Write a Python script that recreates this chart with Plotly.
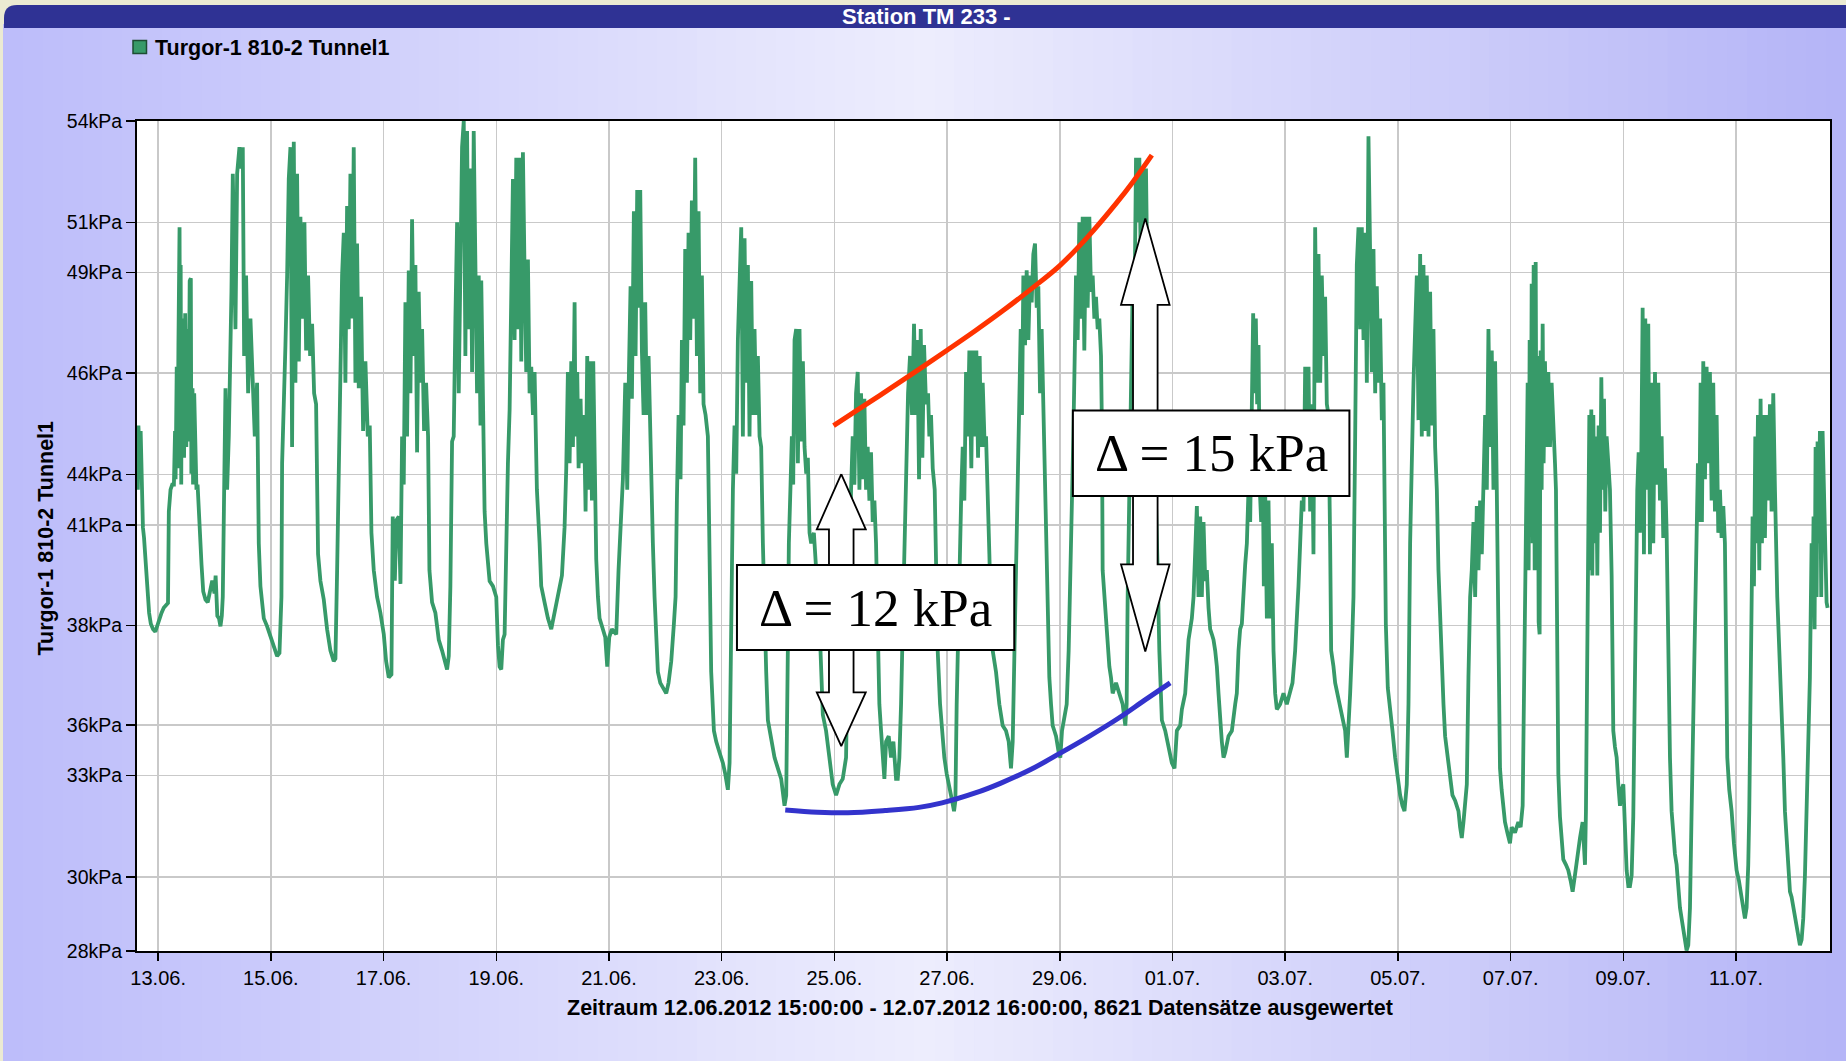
import numpy as np
import pandas as pd
import plotly.graph_objects as go

# ---------------- data (days after 13.06.2012 00:00, kPa) ----------------
BASE = pd.Timestamp("2012-06-13 00:00")
START_DAY, END_DAY = -0.375, 29.6667

seg_jun12_18 = [
    (-0.373, 44.12), (-0.36, 42.45), (-0.35, 44.46), (-0.33, 43.62), (-0.31, 44.29), (-0.29, 42.61),
    (-0.27, 41.27), (-0.25, 40.94), (-0.22, 40.1), (-0.19, 39.43), (-0.16, 38.59), (-0.13, 38.25),
    (-0.09, 38.08), (-0.05, 38.0), (-0.02, 38.17), (0.02, 38.42), (0.06, 38.59), (0.10, 38.75),
    (0.15, 38.84), (0.175, 38.9), (0.19, 41.77), (0.22, 42.45), (0.25, 42.61), (0.28, 42.61),
    (0.30, 44.29), (0.31, 42.78), (0.33, 46.30), (0.345, 43.12), (0.36, 46.98), (0.365, 50.67),
    (0.38, 50.67), (0.39, 44.96), (0.40, 49.49), (0.41, 42.61), (0.42, 47.81), (0.43, 44.12),
    (0.44, 47.31), (0.46, 43.45), (0.48, 47.98), (0.50, 43.79), (0.52, 47.48), (0.54, 43.96),
    (0.56, 48.99), (0.58, 49.07), (0.59, 42.95), (0.61, 45.63), (0.62, 42.61), (0.64, 45.47),
    (0.66, 42.95), (0.68, 42.45), (0.70, 42.61), (0.72, 41.77), (0.74, 40.77), (0.77, 40.1),
    (0.80, 39.26), (0.84, 39.01), (0.88, 38.92), (0.92, 39.26), (0.96, 39.6), (1.0, 39.2),
    (1.02, 39.76), (1.05, 38.5), (1.08, 38.42), (1.106, 38.17), (1.13, 38.5), (1.147, 39.09),
    (1.165, 41.27), (1.195, 45.63), (1.224, 42.45), (1.254, 44.12), (1.301, 48.65), (1.325, 52.35),
    (1.372, 47.48), (1.402, 52.35), (1.443, 53.18), (1.478, 52.51), (1.502, 53.18), (1.526, 46.64),
    (1.561, 49.16), (1.597, 45.47), (1.638, 47.81), (1.668, 46.14), (1.715, 44.12), (1.756, 45.8),
    (1.786, 40.77), (1.815, 39.43), (1.875, 38.42), (1.934, 38.17), (1.993, 37.83), (2.052, 37.58),
    (2.111, 37.24), (2.153, 37.33), (2.188, 39.09), (2.2, 43.28), (2.23, 45.8), (2.259, 46.98),
    (2.289, 49.16), (2.318, 52.18), (2.348, 53.18), (2.377, 43.79), (2.407, 53.35), (2.436, 45.8),
    (2.466, 52.35), (2.496, 46.47), (2.525, 51.0), (2.555, 47.81), (2.596, 50.83), (2.626, 46.81),
    (2.661, 49.16), (2.697, 46.64), (2.732, 47.65), (2.768, 45.47), (2.803, 45.13), (2.838, 40.43),
    (2.88, 39.59), (2.939, 39.01), (2.998, 38.08), (3.057, 37.41), (3.116, 37.08), (3.146, 37.16),
    (3.176, 39.93), (3.205, 43.45), (3.235, 45.3), (3.264, 49.16), (3.294, 50.5), (3.323, 45.8),
    (3.353, 51.34), (3.382, 47.48), (3.412, 52.35), (3.442, 47.81), (3.471, 53.18), (3.501, 45.8),
    (3.53, 50.16), (3.56, 45.63), (3.601, 48.49), (3.637, 44.29), (3.678, 46.47), (3.72, 44.12),
    (3.755, 44.46), (3.785, 41.1), (3.826, 39.93), (3.885, 39.09), (3.944, 38.59), (4.004, 37.92),
    (4.045, 37.08), (4.092, 36.57), (4.14, 36.66), (4.151, 39.43), (4.163, 41.61), (4.2, 39.6),
    (4.23, 41.5), (4.27, 41.61), (4.3, 39.5), (4.329, 44.12), (4.358, 42.61), (4.388, 48.32),
    (4.417, 44.12), (4.447, 49.32), (4.477, 45.47), (4.506, 50.92), (4.536, 46.64), (4.565, 49.49),
    (4.595, 43.62), (4.624, 48.65), (4.654, 45.8), (4.684, 47.48), (4.719, 44.29), (4.755, 45.8),
    (4.79, 44.12), (4.814, 39.93), (4.861, 38.92), (4.92, 38.59), (4.98, 37.75), (5.038, 37.41),
    (5.097, 37.08), (5.127, 36.82), (5.157, 37.24), (5.186, 39.43), (5.216, 43.96), (5.245, 44.12),
    (5.275, 47.81), (5.305, 50.83), (5.334, 45.47), (5.364, 50.83), (5.393, 53.18), (5.423, 54.0),
    (5.452, 46.64), (5.482, 53.69), (5.512, 47.48), (5.541, 52.51), (5.571, 46.14), (5.6, 53.69),
    (5.63, 49.16), (5.659, 45.47), (5.689, 49.16),
]

seg_jun18_24 = [
    (5.72, 44.46), (5.734, 49.0), (5.763, 44.12), (5.793, 41.77), (5.823, 40.77), (5.852, 40.27),
    (5.882, 39.59), (5.941, 39.43), (6.0, 39.09), (6.03, 37.58), (6.059, 36.91), (6.089, 36.82),
    (6.118, 37.75), (6.148, 37.92), (6.177, 40.77), (6.207, 43.28), (6.237, 44.96), (6.266, 48.32),
    (6.296, 52.18), (6.325, 47.14), (6.355, 52.85), (6.384, 47.48), (6.414, 52.85), (6.444, 46.47),
    (6.473, 53.02), (6.503, 49.16), (6.532, 46.14), (6.562, 49.66), (6.591, 45.47), (6.621, 46.30),
    (6.651, 44.79), (6.68, 46.14), (6.698, 43.96), (6.721, 42.45), (6.769, 40.77), (6.798, 39.43),
    (6.857, 38.92), (6.917, 38.42), (6.976, 38.08), (7.035, 38.59), (7.094, 39.09), (7.165, 39.76),
    (7.212, 41.27), (7.242, 43.12), (7.271, 46.14), (7.301, 43.28), (7.331, 46.47), (7.36, 43.79),
    (7.39, 48.32), (7.407, 44.12), (7.437, 46.14), (7.461, 43.12), (7.496, 45.3), (7.52, 43.28),
    (7.555, 44.79), (7.585, 41.77), (7.614, 46.64), (7.644, 42.45), (7.674, 46.47), (7.697, 42.11),
    (7.721, 46.47), (7.745, 42.45), (7.774, 40.27), (7.804, 39.09), (7.833, 38.42), (7.892, 38.08),
    (7.934, 37.83), (7.969, 36.91), (8.005, 37.83), (8.052, 38.08), (8.129, 37.92), (8.17, 39.93),
    (8.218, 41.61), (8.247, 42.78), (8.289, 45.8), (8.324, 42.45), (8.354, 46.14), (8.383, 48.82),
    (8.407, 45.3), (8.442, 51.17), (8.472, 46.64), (8.501, 51.84), (8.531, 48.15), (8.555, 51.84),
    (8.584, 46.81), (8.614, 44.79), (8.643, 48.32), (8.673, 44.79), (8.703, 46.64), (8.738, 43.28),
    (8.779, 40.77), (8.809, 39.09), (8.839, 37.75), (8.868, 36.74), (8.91, 36.4), (8.957, 36.24),
    (9.016, 36.07), (9.057, 36.4), (9.105, 37.08), (9.152, 38.25), (9.182, 39.09), (9.205, 42.11),
    (9.235, 44.79), (9.27, 42.78), (9.294, 47.14), (9.323, 44.46), (9.353, 49.99), (9.383, 45.8),
    (9.412, 50.5), (9.442, 47.14), (9.471, 51.51), (9.501, 47.81), (9.53, 52.85), (9.56, 46.64),
    (9.59, 51.17), (9.619, 45.47), (9.649, 49.16), (9.678, 45.13), (9.714, 44.79), (9.755, 44.12),
    (9.785, 39.93), (9.814, 36.74), (9.862, 34.9), (9.903, 34.56), (9.962, 34.22), (10.021, 33.89),
    (10.063, 33.55), (10.11, 33.05), (10.14, 33.89), (10.169, 39.09), (10.199, 42.45), (10.228, 44.46),
    (10.258, 42.95), (10.287, 47.14), (10.317, 49.16), (10.347, 50.67), (10.376, 44.12), (10.406, 50.33),
    (10.435, 45.8), (10.465, 49.49), (10.494, 44.12), (10.524, 48.99), (10.554, 44.79), (10.583, 47.48),
    (10.613, 44.79), (10.642, 46.64), (10.672, 44.12), (10.701, 43.79), (10.731, 40.77), (10.761, 38.25),
    (10.79, 36.74), (10.82, 35.23), (10.879, 34.56), (10.938, 34.06), (10.997, 33.72), (11.056, 33.39),
    (11.115, 32.55), (11.145, 32.88), (11.174, 37.41), (11.192, 40.77), (11.222, 42.61), (11.245, 44.12),
    (11.269, 42.61), (11.293, 47.14), (11.322, 47.48), (11.352, 43.28), (11.381, 47.48), (11.411, 43.96),
    (11.441, 46.47), (11.47, 43.79), (11.5, 42.95), (11.529, 43.45), (11.559, 41.1), (11.588, 40.77),
    (11.636, 41.1), (11.677, 39.93), (11.736, 38.25), (11.795, 35.4),
]

seg_jun24_30 = [
    (11.852, 34.9), (11.911, 34.06), (11.97, 33.22), (12.03, 32.88), (12.089, 33.22), (12.148, 33.39),
    (12.207, 34.06), (12.237, 37.41), (12.266, 40.77), (12.296, 42.45), (12.325, 44.12), (12.355, 42.61),
    (12.384, 45.47), (12.414, 46.14), (12.444, 42.45), (12.473, 45.47), (12.503, 42.78), (12.532, 45.3),
    (12.562, 42.45), (12.591, 43.79), (12.621, 42.11), (12.65, 43.62), (12.68, 41.44), (12.71, 42.11),
    (12.739, 40.77), (12.769, 37.41), (12.798, 35.73), (12.828, 34.9), (12.857, 34.06), (12.887, 33.39),
    (12.917, 34.56), (12.964, 34.73), (13.005, 34.06), (13.047, 34.56), (13.094, 33.39), (13.124, 33.39),
    (13.153, 34.06), (13.183, 35.73), (13.224, 39.09), (13.26, 42.45), (13.283, 44.12), (13.307, 45.47),
    (13.342, 46.64), (13.378, 44.79), (13.413, 47.65), (13.443, 44.79), (13.472, 47.14), (13.502, 42.78),
    (13.532, 47.48), (13.561, 43.45), (13.591, 46.98), (13.626, 45.13), (13.662, 45.47), (13.685, 44.12),
    (13.715, 44.79), (13.745, 43.12), (13.78, 42.45), (13.804, 39.93), (13.833, 37.41), (13.875, 35.73),
    (13.91, 34.9), (13.951, 34.06), (13.993, 33.55), (14.04, 33.05), (14.088, 32.71), (14.123, 32.38),
    (14.147, 32.71), (14.17, 35.73), (14.206, 39.09), (14.229, 41.1), (14.253, 42.45), (14.277, 43.79),
    (14.306, 42.11), (14.336, 46.14), (14.365, 44.12), (14.395, 46.81), (14.43, 43.12), (14.454, 46.81),
    (14.49, 44.12), (14.519, 46.81), (14.549, 43.45), (14.578, 46.64), (14.602, 43.79), (14.632, 45.8),
    (14.667, 43.79), (14.691, 44.12), (14.72, 41.61), (14.75, 40.43), (14.779, 38.25), (14.809, 37.41),
    (14.868, 36.74), (14.927, 35.73), (14.986, 35.06), (15.045, 34.9), (15.093, 34.56), (15.134, 33.72),
    (15.164, 34.56), (15.193, 37.41), (15.223, 39.93), (15.253, 42.11), (15.282, 44.79), (15.306, 47.48),
    (15.329, 44.79), (15.353, 49.16), (15.383, 46.98), (15.412, 49.32), (15.442, 47.14), (15.471, 49.16),
    (15.501, 48.32), (15.53, 49.83), (15.56, 50.16), (15.59, 48.15), (15.619, 48.82), (15.649, 45.47),
    (15.678, 47.48), (15.708, 45.13), (15.737, 42.45), (15.755, 40.77), (15.785, 38.25), (15.814, 36.57),
    (15.844, 35.73), (15.873, 35.06), (15.903, 34.9), (15.933, 34.73), (15.98, 34.22), (16.009, 34.06),
    (16.039, 34.9), (16.08, 35.4), (16.122, 35.73), (16.157, 37.41), (16.181, 39.09), (16.216, 41.61),
    (16.24, 44.12), (16.263, 46.47), (16.287, 49.16), (16.317, 47.14), (16.346, 50.83), (16.376, 47.81),
    (16.406, 51.0), (16.435, 46.81), (16.465, 51.0), (16.494, 48.15), (16.524, 51.0), (16.554, 48.65),
    (16.583, 49.16), (16.613, 47.81), (16.642, 48.49), (16.672, 47.48), (16.701, 47.81), (16.731, 46.64),
    (16.749, 44.12), (16.76, 39.93), (16.79, 39.09), (16.82, 38.25), (16.849, 37.41), (16.879, 36.91),
    (16.908, 36.57), (16.938, 36.07), (16.997, 36.4), (17.056, 36.07), (17.115, 35.73), (17.162, 35.06),
    (17.186, 35.73), (17.204, 39.09), (17.233, 42.45), (17.263, 45.8), (17.293, 48.82), (17.322, 47.48),
    (17.352, 52.85), (17.381, 50.83), (17.411, 52.85), (17.44, 49.16), (17.47, 52.51), (17.5, 49.99),
    (17.529, 52.51), (17.559, 48.32), (17.588, 49.99), (17.618, 45.13), (17.648, 47.48), (17.677, 44.12),
    (17.707, 42.45), (17.736, 39.93), (17.766, 37.41), (17.795, 35.73),
]

seg_jun30_jul06 = [
    (17.811, 35.23), (17.87, 34.9), (17.929, 34.39), (17.988, 33.89), (18.035, 33.72), (18.077, 34.9),
    (18.136, 35.06), (18.166, 35.57), (18.225, 36.07), (18.254, 37.08), (18.284, 37.75), (18.313, 38.08),
    (18.343, 38.42), (18.373, 39.09), (18.402, 40.77), (18.432, 41.94), (18.461, 39.09), (18.491, 41.61),
    (18.52, 39.09), (18.55, 41.44), (18.58, 39.59), (18.609, 39.93), (18.639, 38.75), (18.668, 38.08),
    (18.698, 37.92), (18.727, 37.75), (18.757, 37.41), (18.787, 36.91), (18.816, 36.07), (18.846, 35.06),
    (18.875, 34.56), (18.905, 34.06), (18.934, 34.22), (18.993, 34.73), (19.053, 34.9), (19.112, 35.73),
    (19.141, 36.07), (19.171, 37.41), (19.2, 38.08), (19.23, 38.25), (19.26, 39.43), (19.289, 40.1),
    (19.319, 40.77), (19.348, 42.45), (19.378, 41.44), (19.407, 44.79), (19.431, 47.98), (19.455, 45.47),
    (19.478, 47.81), (19.502, 45.13), (19.526, 46.98), (19.549, 42.45), (19.573, 41.44), (19.597, 44.12),
    (19.62, 39.43), (19.644, 42.45), (19.674, 38.42), (19.703, 42.11), (19.733, 38.42), (19.762, 40.77),
    (19.792, 37.41), (19.821, 36.07), (19.851, 35.57), (19.91, 35.73), (19.969, 36.07), (20.028, 35.73),
    (20.087, 36.07), (20.129, 36.4), (20.176, 37.41), (20.206, 38.25), (20.235, 39.43), (20.265, 40.77),
    (20.294, 42.11), (20.324, 41.77), (20.354, 46.30), (20.383, 42.45), (20.413, 46.30), (20.442, 41.77),
    (20.472, 45.13), (20.501, 40.43), (20.531, 50.67), (20.561, 45.8), (20.59, 49.83), (20.62, 45.8),
    (20.649, 49.16), (20.679, 46.64), (20.708, 48.49), (20.738, 45.13), (20.768, 44.79), (20.797, 40.77),
    (20.815, 37.41), (20.856, 36.91), (20.886, 36.4), (20.945, 35.9), (21.004, 35.4), (21.063, 34.9),
    (21.093, 34.06), (21.122, 34.9), (21.152, 36.07), (21.182, 37.41), (21.211, 39.09), (21.241, 44.12),
    (21.27, 49.49), (21.3, 50.67), (21.329, 47.48), (21.359, 50.67), (21.389, 47.14), (21.418, 50.5),
    (21.448, 45.8), (21.477, 53.52), (21.507, 49.99), (21.536, 46.14), (21.566, 49.99), (21.596, 45.47),
    (21.625, 48.82), (21.655, 45.8), (21.684, 47.81), (21.714, 44.63), (21.743, 45.8), (21.761, 41.61),
    (21.785, 38.25), (21.82, 36.24), (21.862, 35.4), (21.903, 34.9), (21.95, 34.06), (21.998, 33.39),
    (22.039, 32.88), (22.08, 32.55), (22.116, 32.38), (22.157, 33.22), (22.187, 35.73), (22.216, 40.77),
    (22.246, 44.12), (22.276, 45.8), (22.305, 47.48), (22.335, 49.16), (22.364, 44.63), (22.394, 49.83),
    (22.423, 44.12), (22.453, 49.49), (22.483, 44.29), (22.512, 49.16), (22.542, 44.12), (22.571, 48.65),
    (22.601, 44.46), (22.63, 47.48), (22.66, 43.79), (22.69, 42.45), (22.719, 39.93), (22.749, 38.25),
    (22.778, 36.91), (22.808, 35.73), (22.837, 34.73), (22.885, 34.06), (22.926, 33.39), (22.967, 32.88),
    (23.015, 32.71), (23.074, 32.38), (23.103, 31.88), (23.133, 31.54), (23.163, 32.04), (23.192, 32.71),
    (23.222, 33.22), (23.251, 36.57), (23.281, 39.09), (23.31, 39.93), (23.34, 41.44), (23.37, 39.09),
    (23.399, 41.94), (23.429, 39.93), (23.458, 42.11), (23.488, 40.43), (23.517, 43.28), (23.547, 44.79),
    (23.577, 42.45), (23.606, 47.48), (23.636, 43.79), (23.665, 46.81), (23.695, 42.45), (23.724, 46.47),
    (23.754, 42.45),
]

seg_jul06_12 = [
    (23.781, 39.09), (23.811, 33.72), (23.84, 33.05), (23.87, 32.55), (23.899, 32.04), (23.941, 31.71),
    (23.988, 31.37), (24.018, 31.88), (24.077, 31.71), (24.136, 32.04), (24.177, 31.88), (24.213, 32.55),
    (24.237, 35.73), (24.26, 39.09), (24.284, 42.45), (24.302, 45.8), (24.319, 39.93), (24.337, 47.14),
    (24.355, 41.61), (24.373, 48.9), (24.39, 40.77), (24.408, 49.49), (24.426, 39.93), (24.444, 49.58),
    (24.461, 41.44), (24.479, 46.64), (24.497, 38.3), (24.514, 37.92), (24.532, 46.81), (24.55, 42.45),
    (24.568, 47.65), (24.585, 43.28), (24.609, 46.47), (24.639, 43.79), (24.668, 46.14), (24.698, 43.79),
    (24.727, 45.8), (24.757, 44.12), (24.787, 43.28), (24.804, 42.45), (24.822, 37.41), (24.846, 33.55),
    (24.875, 32.21), (24.905, 31.37), (24.934, 30.87), (24.982, 30.70), (25.023, 30.53), (25.064, 30.2),
    (25.1, 29.86), (25.141, 30.37), (25.183, 31.04), (25.23, 31.54), (25.277, 32.04), (25.319, 30.7),
    (25.336, 32.38), (25.36, 39.09), (25.378, 42.45), (25.396, 44.79), (25.413, 39.93), (25.431, 44.96),
    (25.449, 39.76), (25.467, 44.79), (25.49, 40.77), (25.514, 44.12), (25.538, 39.76), (25.561, 44.46),
    (25.585, 41.1), (25.609, 45.97), (25.632, 42.45), (25.656, 45.3), (25.679, 41.77), (25.703, 44.12),
    (25.733, 43.28), (25.762, 42.45), (25.792, 39.76), (25.821, 34.9), (25.851, 34.39), (25.881, 34.06),
    (25.91, 33.22), (25.94, 32.55), (25.969, 33.05), (25.999, 33.22), (26.028, 31.88), (26.058, 30.53),
    (26.088, 30.03), (26.117, 30.03), (26.147, 30.37), (26.176, 32.21), (26.2, 35.73), (26.224, 39.93),
    (26.247, 42.45), (26.271, 43.62), (26.294, 41.1), (26.318, 43.45), (26.342, 48.15), (26.365, 40.43),
    (26.389, 47.81), (26.413, 42.45), (26.442, 47.65), (26.472, 40.43), (26.501, 45.8), (26.531, 40.77),
    (26.561, 46.14), (26.59, 42.61), (26.62, 45.8), (26.649, 42.11), (26.679, 44.12), (26.708, 40.94),
    (26.738, 43.12), (26.768, 41.1), (26.797, 37.41), (26.827, 34.06), (26.856, 32.38), (26.886, 31.54),
    (26.915, 31.04), (26.945, 30.70), (26.975, 29.86), (27.004, 29.36), (27.034, 29.02), (27.063, 28.69),
    (27.093, 28.35), (27.122, 28.02), (27.152, 28.18), (27.182, 29.36), (27.211, 32.38), (27.241, 35.06),
    (27.27, 37.41), (27.288, 39.93), (27.3, 41.44), (27.323, 43.28), (27.347, 41.44), (27.371, 45.8),
    (27.394, 41.44), (27.418, 46.47), (27.448, 42.78), (27.477, 46.30), (27.507, 43.28), (27.536, 46.14),
    (27.566, 42.11), (27.595, 45.8), (27.625, 41.77), (27.655, 44.79), (27.684, 41.1), (27.714, 42.45),
    (27.743, 40.94), (27.773, 41.94), (27.802, 40.77), (27.82, 37.41), (27.844, 34.06), (27.879, 33.05),
    (27.921, 32.38), (27.962, 31.37), (28.009, 30.53), (28.051, 30.2), (28.098, 29.69), (28.128, 29.36),
    (28.157, 29.02), (28.187, 29.36), (28.216, 30.7), (28.234, 32.38), (28.258, 37.41), (28.276, 39.09),
    (28.293, 41.61), (28.317, 39.43), (28.341, 44.12), (28.364, 40.77), (28.388, 44.79), (28.412, 39.93),
    (28.435, 45.3), (28.459, 40.77), (28.483, 44.79), (28.512, 40.94), (28.542, 44.79), (28.571, 42.11),
    (28.601, 45.13), (28.63, 41.77), (28.66, 45.47), (28.69, 42.45), (28.707, 40.77), (28.731, 39.09),
    (28.767, 37.41), (28.808, 34.9), (28.838, 34.06), (28.867, 32.38), (28.897, 31.37), (28.926, 30.53),
    (28.956, 29.86), (28.985, 29.69), (29.015, 29.36), (29.044, 29.02), (29.074, 28.69), (29.103, 28.52),
    (29.133, 28.18), (29.163, 28.35), (29.192, 29.02), (29.222, 30.37), (29.251, 32.38), (29.281, 34.06),
    (29.31, 36.57), (29.34, 40.77), (29.358, 39.09), (29.375, 41.61), (29.393, 38.08), (29.411, 43.79),
    (29.429, 39.09), (29.446, 43.96), (29.464, 40.77), (29.488, 44.29), (29.511, 39.09), (29.535, 44.29),
    (29.559, 42.45), (29.582, 39.93), (29.606, 38.92), (29.624, 38.75),
]

# envelope curves drawn on top of the series
upper_curve_days = [11.985, 12.5, 13.0, 13.5, 14.0, 14.5, 15.0, 15.5, 16.0, 16.5, 17.0, 17.3, 17.633]
upper_curve_kpa = [44.46, 45.05, 45.63, 46.22, 46.82, 47.43, 48.07, 48.75, 49.47, 50.38, 51.42, 52.1, 52.93]
lower_curve_days = [11.128, 11.7, 12.24, 12.9, 13.5, 13.91, 14.5, 14.955, 15.5, 16.0, 16.5, 17.04, 17.5, 17.958]
lower_curve_kpa = [32.42, 32.35, 32.33, 32.4, 32.5, 32.64, 32.95, 33.26, 33.7, 34.19, 34.7, 35.29, 35.85, 36.4]

# y ticks (axis is linear 28..54, printed labels are rounded)
y_tick_vals = [54, 50.82, 49.26, 46.10, 42.93, 41.34, 38.20, 35.08, 33.50, 30.32, 28]
y_tick_text = ["54kPa", "51kPa", "49kPa", "46kPa", "44kPa", "41kPa", "38kPa", "36kPa", "33kPa", "30kPa", "28kPa"]

# annotations: (center day, head half-width, shaft half-width, top tip, top base, bottom base, bottom tip)
arrow_12 = (12.122, 0.4346, 0.218, 42.94, 41.21, 36.10, 34.42)
arrow_15 = (17.517, 0.431, 0.218, 50.95, 48.24, 40.11, 37.38)
box_12 = (10.271, 15.192, 37.43, 40.09)
box_15 = (16.232, 21.139, 42.25, 44.93)
label_12 = "Δ = 12 kPa"
label_15 = "Δ = 15 kPa"

TITLE = "Station TM 233 -"
SERIES = "Turgor-1 810-2 Tunnel1"
X_TITLE = "Zeitraum 12.06.2012 15:00:00 - 12.07.2012 16:00:00, 8621 Datensätze ausgewertet"

# ---------------- helpers ----------------
W, H = 1846, 1061
L, R, T, B = 137, 16, 121, 110
PW, PH = W - L - R, H - T - B

def to_time(days):
    return BASE + pd.to_timedelta(np.asarray(days, dtype=float), unit="D")

def ts(day):
    return (BASE + pd.Timedelta(days=float(day))).strftime("%Y-%m-%d %H:%M:%S")

def px(X):
    return (X - L) / PW

def py(Y):
    return (H - B - Y) / PH

GREEN = "#379a69"
FONT = "Liberation Sans, Arial, Helvetica, sans-serif"
SERIF = "Liberation Serif, Times New Roman, Times, serif"

allpts = seg_jun12_18 + seg_jun18_24 + seg_jun24_30 + seg_jun30_jul06 + seg_jul06_12
t_days = [p[0] for p in allpts]
kpa = [p[1] for p in allpts]

fig = go.Figure()
fig.add_trace(go.Scatter(x=to_time(t_days), y=kpa, mode="lines",
                         line=dict(color=GREEN, width=3.8), hoverinfo="skip"))
fig.add_trace(go.Scatter(x=to_time(upper_curve_days), y=upper_curve_kpa, mode="lines",
                         line=dict(color="#ff3300", width=5, shape="spline"), hoverinfo="skip"))
fig.add_trace(go.Scatter(x=to_time(lower_curve_days), y=lower_curve_kpa, mode="lines",
                         line=dict(color="#3333cc", width=5, shape="spline"), hoverinfo="skip"))

def arrow_trace(a):
    cx, hw, sw, tt, tb, bb, bt = a
    xs = [cx, cx + hw, cx + sw, cx + sw, cx + hw, cx, cx - hw, cx - sw, cx - sw, cx - hw, cx]
    ys = [tt, tb, tb, bb, bb, bt, bb, bb, tb, tb, tt]
    return go.Scatter(x=to_time(xs), y=ys, mode="lines", fill="toself", fillcolor="white",
                      line=dict(color="black", width=1.8), hoverinfo="skip")

fig.add_trace(arrow_trace(arrow_12))
fig.add_trace(arrow_trace(arrow_15))

shapes = []
# background panel gradient (lavender - white - lavender)
left_c, mid_c, right_c = (188, 188, 250), (237, 237, 253), (180, 180, 247)
N = 93
x_start, x_end = 3, W
for i in range(N):
    X0 = x_start + (x_end - x_start) * i / N
    X1 = x_start + (x_end - x_start) * (i + 1) / N + 0.8
    f = ((X0 + X1) / 2) / W
    if f < 0.5:
        g = f / 0.5
        c = [round(left_c[k] + (mid_c[k] - left_c[k]) * g) for k in range(3)]
    else:
        g = (f - 0.5) / 0.5
        c = [round(mid_c[k] + (right_c[k] - mid_c[k]) * g) for k in range(3)]
    shapes.append(dict(type="rect", xref="paper", yref="paper", x0=px(X0), x1=px(X1),
                       y0=py(H + 2), y1=py(24), fillcolor="rgb(%d,%d,%d)" % tuple(c),
                       line=dict(width=0), layer="below"))
# title bar with rounded top-left corner
r = 13
X0, X1, Y0, Y1 = 4, W, 5, 28
path = (f"M {px(X0)},{py(Y1)} L {px(X0)},{py(Y0 + r)} "
        f"Q {px(X0)},{py(Y0)} {px(X0 + r)},{py(Y0)} L {px(X1)},{py(Y0)} L {px(X1)},{py(Y1)} Z")
shapes.append(dict(type="path", xref="paper", yref="paper", path=path, fillcolor="#2f3294",
                   line=dict(width=0), layer="below"))
# white plotting area
shapes.append(dict(type="rect", xref="paper", yref="paper", x0=0, x1=1, y0=0, y1=1,
                   fillcolor="white", line=dict(width=0), layer="below"))
# legend symbol
shapes.append(dict(type="rect", xref="paper", yref="paper", x0=px(133), x1=px(146.5),
                   y0=py(53.5), y1=py(40.5), fillcolor=GREEN, line=dict(color="#1d4d33", width=1.5),
                   layer="above"))
# delta boxes
for bx in (box_12, box_15):
    shapes.append(dict(type="rect", xref="x", yref="y", x0=ts(bx[0]), x1=ts(bx[1]),
                       y0=bx[2], y1=bx[3], fillcolor="white", line=dict(color="black", width=2),
                       layer="above"))

annotations = [
    dict(text=TITLE, xref="paper", yref="paper", x=px(926), y=py(16.5), showarrow=False,
         xanchor="center", yanchor="middle", font=dict(family=FONT, size=22, color="white", weight="bold")),
    dict(text=SERIES, xref="paper", yref="paper", x=px(153), y=py(47.5), showarrow=False,
         xanchor="left", yanchor="middle", font=dict(family=FONT, size=21.5, color="black", weight="bold")),
    dict(text=SERIES, xref="paper", yref="paper", x=px(45.5), y=py(538), showarrow=False,
         textangle=-90, xanchor="center", yanchor="middle",
         font=dict(family=FONT, size=21.5, color="black", weight="bold")),
    dict(text=X_TITLE, xref="paper", yref="paper", x=px(980), y=py(1008), showarrow=False,
         xanchor="center", yanchor="middle", font=dict(family=FONT, size=21.5, color="black", weight="bold")),
    dict(text=label_12, xref="x", yref="y", x=ts((box_12[0] + box_12[1]) / 2),
         y=(box_12[2] + box_12[3]) / 2, showarrow=False, xanchor="center", yanchor="middle",
         font=dict(family=SERIF, size=53, color="black")),
    dict(text=label_15, xref="x", yref="y", x=ts((box_15[0] + box_15[1]) / 2),
         y=(box_15[2] + box_15[3]) / 2, showarrow=False, xanchor="center", yanchor="middle",
         font=dict(family=SERIF, size=53, color="black")),
]

fig.update_layout(
    width=W, height=H, margin=dict(l=L, r=R, t=T, b=B, pad=0),
    paper_bgcolor="#ebead2", plot_bgcolor="white", showlegend=False, hovermode=False,
    shapes=shapes, annotations=annotations,
    font=dict(family=FONT, color="black"),
)
fig.update_xaxes(
    type="date", range=[ts(START_DAY), ts(END_DAY)], tick0="2012-06-13", dtick=2 * 86400000,
    tickformat="%d.%m.", ticks="outside", ticklen=8, tickwidth=1.5, tickcolor="black",
    showgrid=True, gridcolor="#c9c9c9", gridwidth=1.5, showline=True, linecolor="black",
    linewidth=2, mirror=True, zeroline=False, tickfont=dict(family=FONT, size=20, color="black"),
)
fig.update_yaxes(
    range=[28, 54], tickmode="array", tickvals=y_tick_vals, ticktext=y_tick_text,
    ticks="outside", ticklen=9, tickwidth=1.5, tickcolor="black", showgrid=True,
    gridcolor="#c9c9c9", gridwidth=1.5, showline=True, linecolor="black", linewidth=2,
    mirror=True, zeroline=False, tickfont=dict(family=FONT, size=19.5, color="black"),
)

fig.write_html("out.html", config={"displayModeBar": False, "staticPlot": True},
               post_script="document.body.style.margin='0';document.body.style.overflow='hidden';")
